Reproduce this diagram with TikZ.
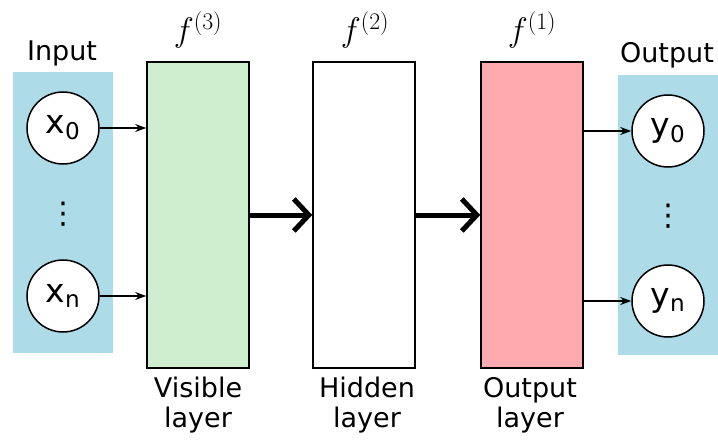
\RequirePackage{fix-cm}
\documentclass[tikz,border=0pt]{standalone}
\usepackage{fontspec}
\setmainfont{DejaVu Sans}
\usetikzlibrary{arrows.meta}
\definecolor{bluebg}{RGB}{173,220,232}
\definecolor{greenc}{RGB}{207,237,207}
\definecolor{redc}{RGB}{255,170,174}
\tikzset{
  layerbox/.style={draw, line width=1.5pt, minimum width=102pt, minimum height=306pt, inner sep=0pt},
  bgbox/.style={fill=bluebg, draw=none, minimum width=100pt, minimum height=280pt, inner sep=0pt},
  unit/.style={circle, draw, fill=white, line width=1.5pt, minimum size=72pt, inner sep=0pt, font=\fontsize{33}{36}\selectfont},
  lbl/.style={font=\fontsize{27}{30}\selectfont, align=center, inner sep=0pt},
  flbl/.style={font=\fontsize{34}{40}\selectfont, inner sep=0pt},
  thin arrow/.style={-{Stealth[length=11pt,width=8pt]}, line width=1.3pt},
  thick arrow/.style={-{Straight Barb[length=15pt,width=32pt,line width=5pt]}, line width=5pt},
  vdotsl/.style={font=\fontsize{30}{30}\selectfont, inner sep=0pt}
}
\begin{document}
\begin{tikzpicture}[x=1pt,y=-1pt]
\useasboundingbox (0,0) rectangle (718,441);
% background columns
\node[bgbox] (inbg) at (63,212.5) {};
\node[bgbox] (outbg) at (667.5,215) {};
% layers
\node[layerbox, fill=greenc] (vis) at (198,215) {};
\node[layerbox, fill=white] (hid) at (364,215) {};
\node[layerbox, fill=redc] (outl) at (532,215) {};
% top labels
\node[lbl] (inlbl) at (62,53) {Input};
\node[lbl] (outlbl) at (667,55) {Output};
\node[flbl] (f3) at (198,30) {$f^{(3)}$};
\node[flbl] (f2) at (365,30) {$f^{(2)}$};
\node[flbl] (f1) at (532,30) {$f^{(1)}$};
% bottom labels
\node[lbl, anchor=north] (vislbl) at (198,377) {Visible\\layer};
\node[lbl, anchor=north] (hidlbl) at (367,377) {Hidden\\layer};
\node[lbl, anchor=north] (outllbl) at (530,377) {Output\\layer};
% units
\node[unit] (x0) at (63,128) {x\textsubscript{0}};
\node[unit] (xn) at (63,296) {x\textsubscript{n}};
\node[unit] (y0) at (668,131) {y\textsubscript{0}};
\node[unit] (yn) at (668,301) {y\textsubscript{n}};
\node[vdotsl] (xd) at (63,214) {⋮};
\node[vdotsl] (yd) at (668,216) {⋮};
% connectors
\coordinate (vx0) at (vis.west |- x0);
\coordinate (vxn) at (vis.west |- xn);
\coordinate (oy0) at (outl.east |- y0);
\coordinate (oyn) at (outl.east |- yn);
\draw[thin arrow] (x0.east) -- (vx0);
\draw[thin arrow] (xn.east) -- (vxn);
\draw[thin arrow] (oy0) -- (y0.west);
\draw[thin arrow] (oyn) -- (yn.west);
\draw[thick arrow] (vis.east) -- (hid.west);
\draw[thick arrow] (hid.east) -- (outl.west);
\end{tikzpicture}
\end{document}
